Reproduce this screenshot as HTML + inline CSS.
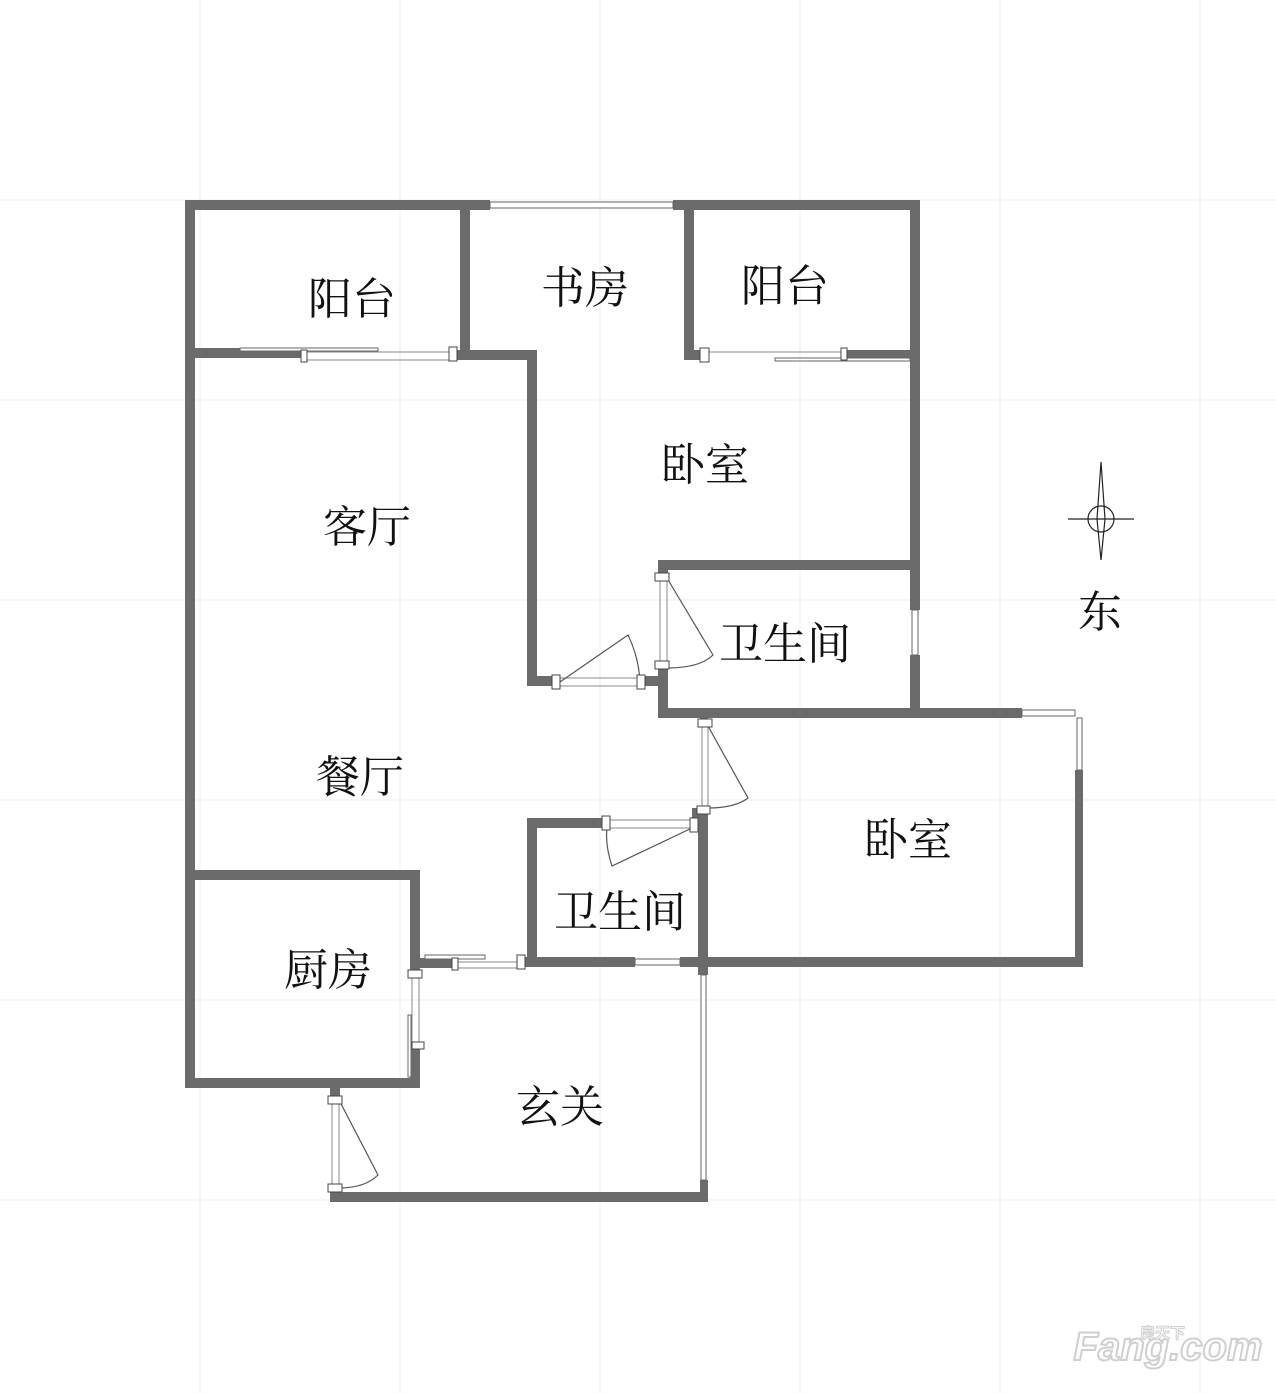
<!DOCTYPE html>
<html><head><meta charset="utf-8"><style>
html,body{margin:0;padding:0;background:#fff}
svg{display:block}
.t{font-family:"Liberation Serif","Noto Serif CJK SC",serif;font-size:44px;fill:#111;text-anchor:middle}
</style></head><body>
<svg width="1276" height="1393" viewBox="0 0 1276 1393" xmlns="http://www.w3.org/2000/svg">
<g stroke="#ececec" stroke-width="1">
<line x1="200" y1="0" x2="200" y2="1393"/><line x1="400" y1="0" x2="400" y2="1393"/><line x1="600" y1="0" x2="600" y2="1393"/><line x1="800" y1="0" x2="800" y2="1393"/><line x1="1000" y1="0" x2="1000" y2="1393"/><line x1="1200" y1="0" x2="1200" y2="1393"/>
<line x1="0" y1="200" x2="1276" y2="200"/><line x1="0" y1="400" x2="1276" y2="400"/><line x1="0" y1="600" x2="1276" y2="600"/><line x1="0" y1="800" x2="1276" y2="800"/><line x1="0" y1="1000" x2="1276" y2="1000"/><line x1="0" y1="1200" x2="1276" y2="1200"/>
</g>
<g fill="#6b6b6b">
<rect x="185" y="200" width="305" height="10"/><rect x="673" y="200" width="247" height="10"/>
<rect x="185" y="200" width="10" height="888"/>
<rect x="910" y="200" width="10" height="410"/><rect x="910" y="655" width="10" height="63"/>
<rect x="460" y="200" width="10" height="158"/>
<rect x="185" y="348" width="118" height="10"/>
<rect x="455" y="350" width="82" height="10"/>
<rect x="527" y="350" width="10" height="336"/>
<rect x="527" y="676" width="30" height="10"/>
<rect x="684" y="200" width="10" height="158"/>
<rect x="684" y="350" width="24" height="10"/>
<rect x="845" y="350" width="65" height="10"/>
<rect x="658" y="560" width="262" height="10"/>
<rect x="658" y="560" width="10" height="18"/>
<rect x="658" y="665" width="10" height="53"/>
<rect x="640" y="676" width="28" height="10"/>
<rect x="658" y="708" width="364" height="10"/>
<rect x="1075" y="770" width="8" height="197"/>
<rect x="700" y="718" width="8" height="8"/>
<rect x="698" y="808" width="10" height="167"/>
<rect x="525" y="957" width="110" height="10"/><rect x="680" y="957" width="403" height="10"/>
<rect x="527" y="818" width="10" height="149"/>
<rect x="527" y="818" width="80" height="10"/>
<rect x="692" y="808" width="16" height="20"/>
<rect x="185" y="870" width="235" height="10"/>
<rect x="410" y="870" width="10" height="105"/>
<rect x="410" y="958" width="45" height="10"/>
<rect x="410" y="1045" width="10" height="43"/>
<rect x="185" y="1078" width="235" height="10"/>
<rect x="330" y="1088" width="10" height="12"/>
<rect x="330" y="1188" width="10" height="14"/>
<rect x="330" y="1192" width="378" height="10"/>
<rect x="700" y="1180" width="8" height="22"/>
</g>
<g fill="#fff" stroke="#666" stroke-width="1">
<rect x="490" y="202" width="183" height="6"/>
<rect x="912" y="610" width="6" height="45"/>
<rect x="1022" y="710" width="53" height="6"/>
<rect x="1077" y="718" width="5" height="52"/>
<rect x="635" y="959" width="45" height="6"/>
<rect x="701" y="975" width="5" height="205"/>
<rect x="240" y="348" width="138" height="3"/>
<rect x="775" y="358" width="135" height="3"/>
<rect x="425" y="955" width="60" height="4"/>
<rect x="408" y="1015" width="3" height="62"/>
</g>
<g fill="none" stroke="#888" stroke-width="1">
<line x1="303" y1="352" x2="455" y2="352"/><line x1="303" y1="360" x2="455" y2="360"/>
<line x1="708" y1="352" x2="845" y2="352"/>
<line x1="557" y1="678" x2="640" y2="678"/><line x1="557" y1="686" x2="640" y2="686"/>
<line x1="660" y1="578" x2="660" y2="665"/><line x1="667" y1="578" x2="667" y2="665"/>
<line x1="702" y1="726" x2="702" y2="808"/><line x1="708" y1="726" x2="708" y2="808"/>
<line x1="607" y1="820" x2="692" y2="820"/><line x1="607" y1="828" x2="692" y2="828"/>
<line x1="455" y1="962" x2="520" y2="962"/><line x1="455" y1="968" x2="520" y2="968"/>
<line x1="412" y1="975" x2="412" y2="1045"/><line x1="419" y1="975" x2="419" y2="1045"/>
<line x1="332" y1="1100" x2="332" y2="1188"/><line x1="339" y1="1100" x2="339" y2="1188"/>
</g>
<g fill="none" stroke="#555" stroke-width="1.2">
<path d="M557 684 L628 635 Q640 660 640 686"/>
<path d="M667 578 L713 655 Q700 668 667 668"/>
<path d="M708 726 L748 798 Q735 808 708 808"/>
<path d="M692 828 L612 866 Q605 845 607 828"/>
<path d="M339 1100 L378 1175 Q365 1188 339 1188"/>
</g>
<g fill="#fff" stroke="#444" stroke-width="1">
<rect x="449" y="347" width="8" height="14"/><rect x="301" y="350" width="6" height="12"/>
<rect x="700" y="348" width="9" height="14"/><rect x="841" y="348" width="6" height="12"/>
<rect x="552" y="675" width="8" height="14"/><rect x="637" y="675" width="8" height="14"/>
<rect x="655" y="573" width="14" height="8"/><rect x="655" y="661" width="14" height="8"/>
<rect x="698" y="719" width="14" height="8"/><rect x="697" y="806" width="13" height="8"/>
<rect x="602" y="816" width="8" height="14"/><rect x="690" y="818" width="8" height="14"/>
<rect x="517" y="955" width="8" height="14"/><rect x="452" y="958" width="6" height="12"/>
<rect x="408" y="970" width="14" height="8"/><rect x="412" y="1042" width="12" height="7"/>
<rect x="328" y="1096" width="14" height="8"/><rect x="328" y="1184" width="14" height="8"/>
</g>
<text class="t" x="352" y="314">阳台</text>
<text class="t" x="585" y="303">书房</text>
<text class="t" x="785" y="301">阳台</text>
<text class="t" x="705" y="480">卧室</text>
<text class="t" x="367" y="542">客厅</text>
<text class="t" x="785" y="659">卫生间</text>
<text class="t" x="360" y="792">餐厅</text>
<text class="t" x="908" y="855">卧室</text>
<text class="t" x="620" y="927">卫生间</text>
<text class="t" x="328" y="985">厨房</text>
<text class="t" x="560" y="1122">玄关</text>
<text class="t" x="1100" y="627">东</text>
<g stroke="#222" stroke-width="1.2" fill="none">
<line x1="1068" y1="519" x2="1134" y2="519"/>
<circle cx="1101" cy="519" r="13"/>
<path d="M1101 462 L1105 519 L1101 560 L1097 519 Z"/>
</g>
<text x="1168" y="1360" font-family="Liberation Sans,sans-serif" font-weight="bold" font-style="italic" font-size="40" fill="#fff" stroke="#cfcfcf" stroke-width="2" text-anchor="middle">Fang.com</text>
<text x="1140" y="1338" font-family="Liberation Sans,'Noto Sans CJK SC',sans-serif" font-weight="bold" font-size="15" fill="#fff" stroke="#cfcfcf" stroke-width="1">房天下</text>
</svg>
</body></html>
